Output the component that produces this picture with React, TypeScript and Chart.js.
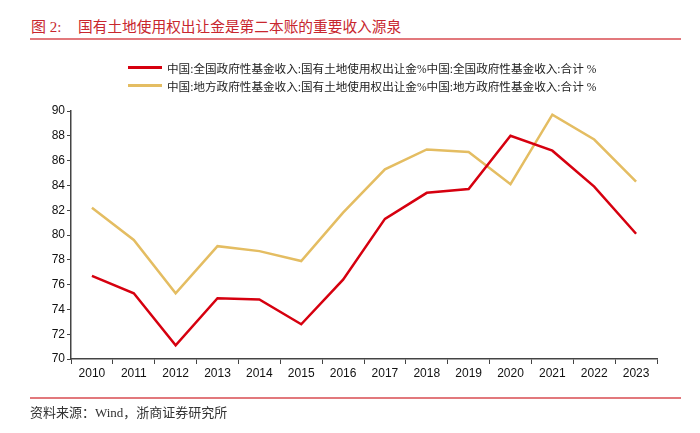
import React, { useEffect, useRef } from "react";
import { Chart, registerables } from "chart.js";

Chart.register(...registerables);

const categories = ["2010", "2011", "2012", "2013", "2014", "2015", "2016", "2017", "2018", "2019", "2020", "2021", "2022", "2023"];
const nationalShare = [76.7, 75.3, 71.1, 74.9, 74.8, 72.8, 76.4, 81.3, 83.4, 83.7, 88.0, 86.8, 83.9, 80.1];
const localShare = [82.2, 79.6, 75.3, 79.1, 78.7, 77.9, 81.8, 85.3, 86.9, 86.7, 84.1, 89.7, 87.7, 84.3];
const seriesLabels = [
  "中国:全国政府性基金收入:国有土地使用权出让金%中国:全国政府性基金收入:合计 %",
  "中国:地方政府性基金收入:国有土地使用权出让金%中国:地方政府性基金收入:合计 %",
];
const seriesColors = ["#d6000f", "#e4bd62"];

const CJK = '"Liberation Serif", "Noto Sans CJK SC", serif';

export default function App() {
  const ref = useRef<HTMLCanvasElement>(null);
  useEffect(() => {
    if (!ref.current) return;
    const chart = new Chart(ref.current, {
      type: "line",
      data: {
        labels: categories,
        datasets: [
          { label: seriesLabels[0], data: nationalShare, borderColor: seriesColors[0], backgroundColor: seriesColors[0], borderWidth: 2.5, pointRadius: 0, tension: 0 },
          { label: seriesLabels[1], data: localShare, borderColor: seriesColors[1], backgroundColor: seriesColors[1], borderWidth: 2.5, pointRadius: 0, tension: 0 },
        ],
      },
      options: {
        animation: false,
        responsive: false,
        maintainAspectRatio: false,
        layout: { padding: { left: 0, top: 111, right: 43, bottom: 44 } },
        plugins: { legend: { display: false }, tooltip: { enabled: false }, title: { display: false } },
        scales: {
          x: {
            offset: true,
            afterFit: (s: any) => { s.height = 30; },
            grid: { offset: true, drawOnChartArea: false, drawTicks: true, tickLength: 5, color: "#444" },
            border: { color: "#444", width: 1.5 },
            ticks: { color: "#111", font: { family: '"Liberation Sans", Arial, sans-serif', size: 12 }, padding: 2, maxRotation: 0, autoSkip: false },
          },
          y: {
            min: 70,
            max: 90,
            afterFit: (s: any) => { s.width = 71; },
            grid: { drawOnChartArea: false, drawTicks: true, tickLength: 4, color: "#444" },
            border: { color: "#444", width: 1.5 },
            ticks: { stepSize: 2, color: "#111", font: { family: '"Liberation Sans", Arial, sans-serif', size: 12 }, padding: 2 },
          },
        },
      },
    });
    return () => chart.destroy();
  }, []);

  return (
    <div style={{ position: "absolute", left: 0, top: 0, width: 700, height: 433, background: "#fff", overflow: "hidden" }}>
      <div style={{ position: "absolute", left: 31, top: 17, fontFamily: CJK, fontSize: 15, lineHeight: "20px", color: "#c8262e", whiteSpace: "pre" }}>
        {"图 2:"}
      </div>
      <div style={{ position: "absolute", left: 78, top: 17, fontFamily: CJK, fontSize: 14.7, lineHeight: "20px", color: "#c8262e", whiteSpace: "pre" }}>
        {"国有土地使用权出让金是第二本账的重要收入源泉"}
      </div>
      <div style={{ position: "absolute", left: 30, top: 38, width: 651, height: 2, background: "#e2787c" }} />
      <canvas ref={ref} width={700} height={433} style={{ position: "absolute", left: 0, top: 0 }} />
      {seriesLabels.map((lab, i) => (
        <div key={i} style={{ position: "absolute", left: 128, top: 59 + i * 18, height: 17, display: "flex", alignItems: "center", fontFamily: CJK, fontSize: 11.6, color: "#222", whiteSpace: "nowrap" }}>
          <span style={{ display: "inline-block", width: 34, height: 3, background: seriesColors[i], marginRight: 5 }} />
          <span>{lab}</span>
        </div>
      ))}
      <div style={{ position: "absolute", left: 30, top: 397, width: 651, height: 2, background: "#e2787c" }} />
      <div style={{ position: "absolute", left: 30, top: 404, fontFamily: CJK, fontSize: 13, lineHeight: "18px", color: "#333", whiteSpace: "pre" }}>
        {"资料来源：Wind，浙商证券研究所"}
      </div>
    </div>
  );
}
